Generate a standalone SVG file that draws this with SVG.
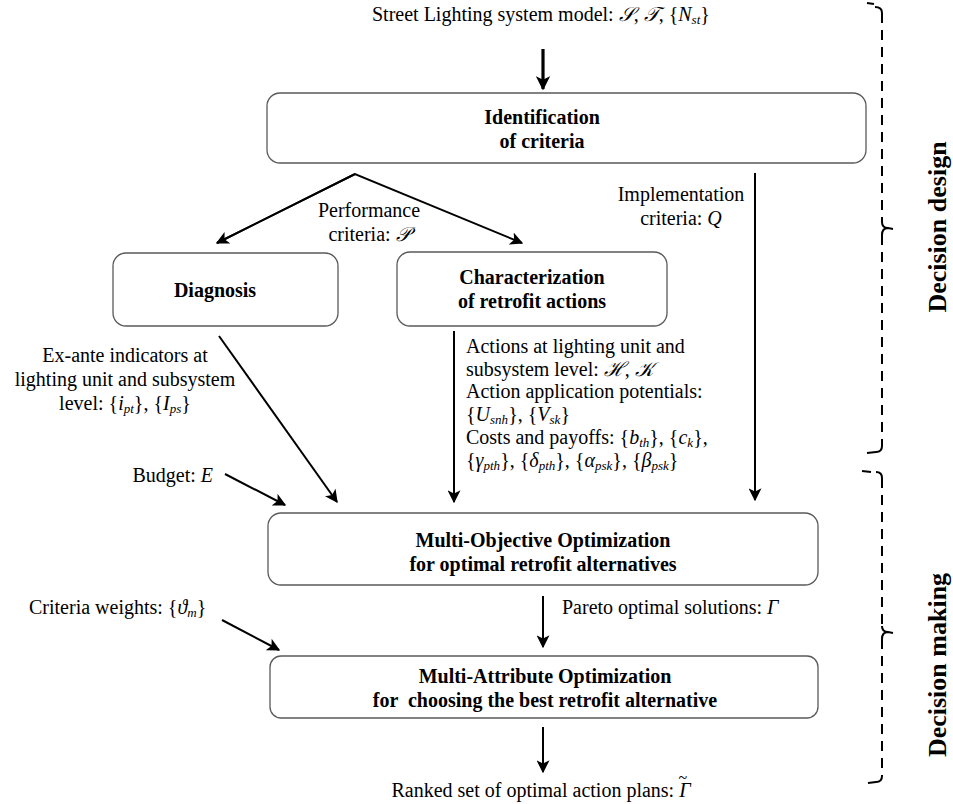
<svg xmlns="http://www.w3.org/2000/svg" width="953" height="804" viewBox="0 0 953 804">
<style>
.box{fill:#fff;stroke:#5a5a5a;stroke-width:1.3}
.bl{font-family:"Liberation Serif",serif;font-weight:bold;font-size:20px;fill:#000;text-anchor:middle}
.t{font-family:"Liberation Serif",serif;font-size:20px;fill:#000}
.m{font-style:italic}
.s{font-style:italic;font-size:13px}
.c{stroke:#000;stroke-width:2;fill:none}
.br{stroke:#000;stroke-width:2;fill:none}
.lab{font-family:"Liberation Serif",serif;font-weight:bold;font-size:26px;fill:#000;text-anchor:middle}
</style>
<defs>
<marker id="ah" viewBox="0 0 10 10" refX="9" refY="5" markerWidth="6.5" markerHeight="6.5" orient="auto" markerUnits="strokeWidth">
<path d="M0,0 L10,5 L0,10 L2.5,5 z" fill="#000"/>
</marker>
<marker id="ah2" viewBox="0 0 10 10" refX="9" refY="5" markerWidth="4.5" markerHeight="4.5" orient="auto" markerUnits="strokeWidth">
<path d="M0,0 L10,5 L0,10 L2.5,5 z" fill="#000"/>
</marker>
</defs>

<g id="connectors">
<line class="c" x1="543" y1="49" x2="543" y2="89" style="stroke-width:3.2" marker-end="url(#ah2)"/>
<polyline class="c" points="217,243 355,174 522,243" marker-end="url(#ah)"/>
<line class="c" x1="355" y1="174" x2="217" y2="243" marker-end="url(#ah)"/>
<line class="c" x1="755" y1="173" x2="755" y2="500" marker-end="url(#ah)"/>
<line class="c" x1="219" y1="336" x2="337" y2="502" marker-end="url(#ah)"/>
<line class="c" x1="454" y1="331" x2="454" y2="502" marker-end="url(#ah)"/>
<line class="c" x1="225" y1="474" x2="285" y2="505" marker-end="url(#ah)"/>
<line class="c" x1="543" y1="596" x2="543" y2="647" marker-end="url(#ah)"/>
<line class="c" x1="222" y1="620" x2="279" y2="650" marker-end="url(#ah)"/>
<line class="c" x1="543" y1="727" x2="543" y2="772" marker-end="url(#ah)"/>
</g>

<g id="identification">
<rect class="box" x="267" y="93" width="599" height="70" rx="13"/>
<text class="bl" x="542" y="124">Identification</text>
<text class="bl" x="542" y="148">of criteria</text>
</g>

<g id="diagnosis">
<rect class="box" x="113" y="253" width="225" height="73" rx="13"/>
<text class="bl" x="215" y="297">Diagnosis</text>
</g>

<g id="characterization">
<rect class="box" x="397" y="252" width="270" height="74" rx="13"/>
<text class="bl" x="532" y="284">Characterization</text>
<text class="bl" x="532" y="308">of retrofit actions</text>
</g>

<g id="multi-objective">
<rect class="box" x="268" y="513" width="550" height="72" rx="13"/>
<text class="bl" x="543" y="547">Multi-Objective Optimization</text>
<text class="bl" x="543" y="571">for optimal retrofit alternatives</text>
</g>

<g id="multi-attribute">
<rect class="box" x="270" y="656" width="548" height="62" rx="11"/>
<text class="bl" x="545" y="683">Multi-Attribute Optimization</text>
<text class="bl" x="545" y="707" xml:space="preserve">for  choosing the best retrofit alternative</text>
</g>

<g id="labels">
<text class="t" x="372" y="21">Street Lighting system model: <tspan class="m">𝒮</tspan>, <tspan class="m">𝒯</tspan>, {<tspan class="m">N</tspan><tspan class="s" dy="3">st</tspan><tspan dy="-3">}</tspan></text>
<text class="t" x="369" y="217" text-anchor="middle">Performance</text>
<text class="t" x="369" y="241" text-anchor="middle">criteria: <tspan class="m">𝒫</tspan></text>
<text class="t" x="681" y="201" text-anchor="middle">Implementation</text>
<text class="t" x="681" y="225" text-anchor="middle">criteria: <tspan class="m">Q</tspan></text>
<text class="t" x="125" y="362" text-anchor="middle">Ex-ante indicators at</text>
<text class="t" x="125" y="386" text-anchor="middle">lighting unit and subsystem</text>
<text class="t" x="125" y="410" text-anchor="middle">level: {<tspan class="m">i</tspan><tspan class="s" dy="3">pt</tspan><tspan dy="-3">}, {</tspan><tspan class="m">I</tspan><tspan class="s" dy="3">ps</tspan><tspan dy="-3">}</tspan></text>
<text class="t" x="466" y="353">Actions at lighting unit and</text>
<text class="t" x="466" y="375.5">subsystem level: <tspan class="m">ℋ</tspan>, <tspan class="m">𝒦</tspan></text>
<text class="t" x="466" y="398">Action application potentials:</text>
<text class="t" x="466" y="420.5">{<tspan class="m">U</tspan><tspan class="s" dy="3">snh</tspan><tspan dy="-3">}, {</tspan><tspan class="m">V</tspan><tspan class="s" dy="3">sk</tspan><tspan dy="-3">}</tspan></text>
<text class="t" x="466" y="444">Costs and payoffs: {<tspan class="m">b</tspan><tspan class="s" dy="3">th</tspan><tspan dy="-3">}, {</tspan><tspan class="m">c</tspan><tspan class="s" dy="3">k</tspan><tspan dy="-3">},</tspan></text>
<text class="t" x="466" y="467">{<tspan class="m">γ</tspan><tspan class="s" dy="3">pth</tspan><tspan dy="-3">}, {</tspan><tspan class="m">δ</tspan><tspan class="s" dy="3">pth</tspan><tspan dy="-3">}, {</tspan><tspan class="m">α</tspan><tspan class="s" dy="3">psk</tspan><tspan dy="-3">}, {</tspan><tspan class="m">β</tspan><tspan class="s" dy="3">psk</tspan><tspan dy="-3">}</tspan></text>
<text class="t" x="213" y="482" text-anchor="end">Budget: <tspan class="m">E</tspan></text>
<text class="t" x="29" y="614">Criteria weights: {<tspan class="m">ϑ</tspan><tspan class="s" dy="3">m</tspan><tspan dy="-3">}</tspan></text>
<text class="t" x="562" y="614">Pareto optimal solutions: <tspan class="m">Γ</tspan></text>
<text class="t" x="541" y="797" text-anchor="middle">Ranked set of optimal action plans: <tspan class="m">Γ</tspan><tspan dx="-12" dy="-14" font-size="16">~</tspan></text>
</g>

<g id="brackets">
<path class="br" stroke-dasharray="10,7" d="M882,13 L882,222"/>
<path class="br" stroke-dasharray="10,7" d="M882,235 L882,446"/>
<path class="br" d="M867,3 L874,4 M875,7 Q882,7 882,13 M882,222 Q882,228 888,228 L893,229 M882,235 Q882,228 888,228 M882,446 Q882,452 876,452 L867,453"/>
<path class="br" stroke-dasharray="10,7" d="M882,478 L882,626"/>
<path class="br" stroke-dasharray="10,7" d="M882,639 L882,776"/>
<path class="br" d="M862,471 L871,472 M876,472 Q882,472 882,478 M882,626 Q882,632 888,632 L893,633 M882,639 Q882,632 888,632 M882,776 Q882,782 876,782 L868,783"/>
<text class="lab" transform="translate(946,227) rotate(-90)">Decision design</text>
<text class="lab" transform="translate(946,665) rotate(-90)">Decision making</text>
</g>
</svg>
